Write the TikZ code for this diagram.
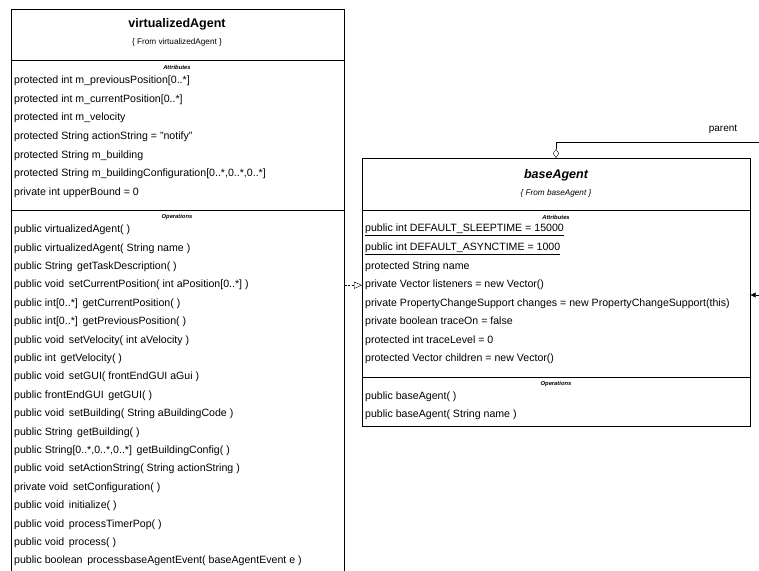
\documentclass[tikz,border=0pt]{standalone}
\usepackage{fontspec}
\setmainfont{Liberation Sans}
\usetikzlibrary{arrows.meta}

\tikzset{
	classbox/.style={draw=black, semithick, rectangle, inner sep=0pt, anchor=north west},
	classname/.style={font=\fontsize{12.5}{14}\selectfont\bfseries, inner sep=0pt},
	classfrom/.style={font=\fontsize{8.2}{10}\selectfont, inner sep=0pt},
	section/.style={font=\fontsize{5.8}{7}\selectfont\bfseries\itshape, inner sep=0pt},
	member/.style={font=\fontsize{10.6}{12}\selectfont, anchor=west, inner sep=0pt},
	realize/.style={thin, dash pattern={on 2pt off 1.5pt}, -{Triangle[open, length=8pt, width=7pt]}},
}

\begin{document}
\begin{tikzpicture}[x=1pt,y=-1pt]
	\useasboundingbox (0,0) rectangle (759,570);

	%virtualizedAgent class (runs off the bottom)
	\node[classbox, minimum width=333pt, minimum height=580pt] (vA) at (11,9) {};
	\draw [semithick] (11,60)--(344,60);	%header line
	\draw [semithick] (11,210)--(344,210);	%attributes/operations line
	\node[classname] (vAname) at (177,24) {virtualizedAgent};
	\node[classfrom] (vAfrom) at (177,42) {\{ From virtualizedAgent \}};

	%attributes
	\node[section] (vAattr) at (177,67) {Attributes};
	\node[member] (vAa1) at (14,81)    {protected int m\_previousPosition[0..*]};
	\node[member] (vAa2) at (14,99.6)  {protected int m\_currentPosition[0..*]};
	\node[member] (vAa3) at (14,118.2) {protected int m\_velocity};
	\node[member] (vAa4) at (14,136.8) {protected String actionString = "notify"};
	\node[member] (vAa5) at (14,155.4) {protected String m\_building};
	\node[member] (vAa6) at (14,174)   {protected String m\_buildingConfiguration[0..*,0..*,0..*]};
	\node[member] (vAa7) at (14,192.6) {private int upperBound = 0};

	%operations
	\node[section] (vAops) at (177,217) {Operations};
	\node[member] (vAo1)  at (14,230)   {public virtualizedAgent( )};
	\node[member] (vAo2)  at (14,248.4) {public virtualizedAgent( String name )};
	\node[member] (vAo3)  at (14,266.8) {public String\, getTaskDescription( )};
	\node[member] (vAo4)  at (14,285.2) {public void\, setCurrentPosition( int aPosition[0..*] )};
	\node[member] (vAo5)  at (14,303.6) {public int[0..*]\, getCurrentPosition( )};
	\node[member] (vAo6)  at (14,322)   {public int[0..*]\, getPreviousPosition( )};
	\node[member] (vAo7)  at (14,340.4) {public void\, setVelocity( int aVelocity )};
	\node[member] (vAo8)  at (14,358.8) {public int\, getVelocity( )};
	\node[member] (vAo9)  at (14,377.2) {public void\, setGUI( frontEndGUI aGui )};
	\node[member] (vAo10) at (14,395.6) {public frontEndGUI\, getGUI( )};
	\node[member] (vAo11) at (14,414)   {public void\, setBuilding( String aBuildingCode )};
	\node[member] (vAo12) at (14,432.4) {public String\, getBuilding( )};
	\node[member] (vAo13) at (14,450.8) {public String[0..*,0..*,0..*]\, getBuildingConfig( )};
	\node[member] (vAo14) at (14,469.2) {public void\, setActionString( String actionString )};
	\node[member] (vAo15) at (14,487.6) {private void\, setConfiguration( )};
	\node[member] (vAo16) at (14,506)   {public void\, initialize( )};
	\node[member] (vAo17) at (14,524.4) {public void\, processTimerPop( )};
	\node[member] (vAo18) at (14,542.8) {public void\, process( )};
	\node[member] (vAo19) at (14,561.2) {public boolean\, processbaseAgentEvent( baseAgentEvent e )};

	%baseAgent class
	\node[classbox, minimum width=388pt, minimum height=268pt] (bA) at (362,158) {};
	\draw [semithick] (362,210)--(750,210);	%header line
	\draw [semithick] (362,377)--(750,377);	%attributes/operations line
	\node[classname, font=\fontsize{12.5}{14}\selectfont\bfseries\itshape] (bAname) at (556,175) {baseAgent};
	\node[classfrom, font=\fontsize{8.2}{10}\selectfont\itshape] (bAfrom) at (556,193) {\{ From baseAgent \}};

	%attributes
	\node[section] (bAattr) at (556,217) {Attributes};
	\node[member] (bAa1) at (365,230)   {\underline{public int DEFAULT\_SLEEPTIME = 15000}};
	\node[member] (bAa2) at (365,248.4) {\underline{public int DEFAULT\_ASYNCTIME = 1000}};
	\node[member] (bAa3) at (365,266.8) {protected String name};
	\node[member] (bAa4) at (365,285.2) {private Vector listeners = new Vector()};
	\node[member] (bAa5) at (365,303.6) {private PropertyChangeSupport changes = new PropertyChangeSupport(this)};
	\node[member] (bAa6) at (365,322)   {private boolean traceOn = false};
	\node[member] (bAa7) at (365,340.4) {protected int traceLevel = 0};
	\node[member] (bAa8) at (365,358.8) {protected Vector children = new Vector()};

	%operations
	\node[section] (bAops) at (556,384) {Operations};
	\node[member] (bAo1) at (365,397) {public baseAgent( )};
	\node[member] (bAo2) at (365,415) {public baseAgent( String name )};

	%realization: virtualizedAgent --|> baseAgent
	\draw [realize] (vA.east |- bAa4)--(bA.west |- bAa4);

	%parent association (leaves the picture on the right)
	\coordinate (pTurn) at (556,142);
	\coordinate (pEnd) at (762,142);
	\draw [thin, {Diamond[open, length=9pt, width=6pt]}-] (bA.north -| pTurn)--(pTurn)--(pEnd);
	\node[font=\fontsize{10}{12}\selectfont] (parent) at (723,129) {parent};

	%children association coming in from the right
	\coordinate (cEnd) at (762,295);
	\draw [thin, -{Triangle[length=5pt, width=5pt]}] (cEnd)--(bA.east |- cEnd);
\end{tikzpicture}
\end{document}
